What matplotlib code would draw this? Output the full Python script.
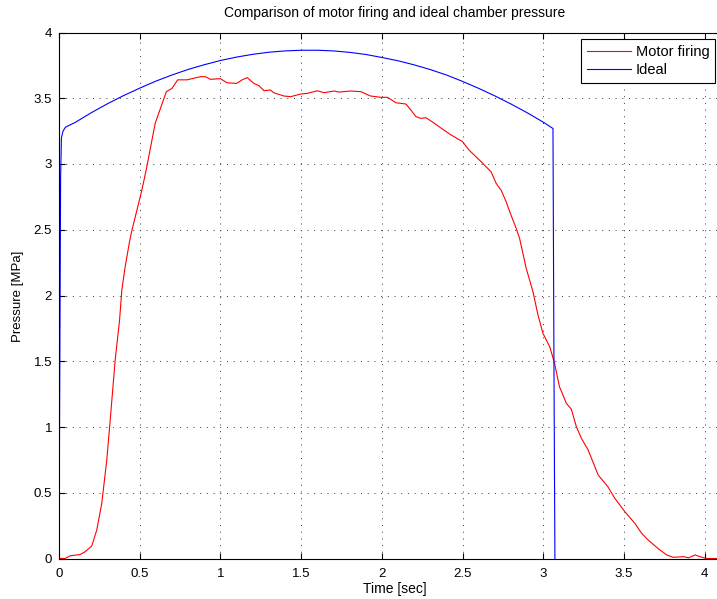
import matplotlib
matplotlib.use("Agg")
import matplotlib.pyplot as plt
import numpy as np

# measured motor firing (red)
fire_t = [0.0, 0.037, 0.068, 0.13, 0.16, 0.203, 0.234, 0.265, 0.296, 0.317, 0.348,
          0.375, 0.389, 0.41, 0.437, 0.452, 0.483, 0.513, 0.54, 0.596, 0.665, 0.70,
          0.735, 0.793, 0.876, 0.907, 0.938, 1.0, 1.04, 1.10, 1.135, 1.166, 1.207,
          1.238, 1.27, 1.31, 1.33, 1.393, 1.435, 1.497, 1.538, 1.60, 1.642, 1.704,
          1.735, 1.807, 1.87, 1.93, 1.994, 2.035, 2.087, 2.149, 2.18, 2.211, 2.242,
          2.273, 2.325, 2.377, 2.43, 2.50, 2.54, 2.615, 2.677, 2.708, 2.739, 2.77,
          2.80, 2.832, 2.853, 2.874, 2.894, 2.936, 2.967, 2.998, 3.04, 3.07, 3.10,
          3.143, 3.174, 3.205, 3.236, 3.278, 3.34, 3.40, 3.443, 3.505, 3.567, 3.609,
          3.65, 3.71, 3.764, 3.806, 3.87, 3.90, 3.94, 3.97, 4.01, 4.1]
fire_p = [0.0, 0.0, 0.02, 0.03, 0.05, 0.095, 0.217, 0.42, 0.75, 1.05, 1.51,
          1.81, 2.04, 2.22, 2.41, 2.498, 2.65, 2.80, 2.954, 3.31, 3.55, 3.575,
          3.64, 3.64, 3.664, 3.664, 3.644, 3.649, 3.618, 3.613, 3.64, 3.657, 3.613,
          3.596, 3.557, 3.563, 3.542, 3.517, 3.512, 3.532, 3.537, 3.557, 3.542, 3.555,
          3.547, 3.555, 3.55, 3.517, 3.507, 3.507, 3.466, 3.456, 3.41, 3.36, 3.347,
          3.352, 3.31, 3.264, 3.22, 3.17, 3.106, 3.017, 2.94, 2.853, 2.80, 2.713,
          2.612, 2.511, 2.435, 2.32, 2.207, 2.029, 1.852, 1.712, 1.61, 1.484, 1.307,
          1.18, 1.135, 1.002, 0.914, 0.825, 0.635, 0.546, 0.458, 0.356, 0.268, 0.192,
          0.14, 0.077, 0.027, 0.009, 0.014, 0.005, 0.027, 0.014, 0.0, 0.0]

# ideal chamber pressure (blue)
ideal_t = [0.0, 0.005, 0.01, 0.015, 0.025, 0.04, 0.1, 0.2, 0.3, 0.4, 0.5, 0.6, 0.7,
           0.8, 0.9, 1.0, 1.1, 1.2, 1.3, 1.4, 1.5, 1.6, 1.7, 1.8, 1.9, 2.0, 2.1,
           2.2, 2.3, 2.4, 2.5, 2.6, 2.7, 2.8, 2.9, 3.0, 3.06, 3.066, 3.072]
ideal_p = [0.0, 1.5, 2.9, 3.2, 3.25, 3.28, 3.316, 3.39, 3.458, 3.52, 3.577, 3.63, 3.677,
           3.719, 3.755, 3.787, 3.813, 3.834, 3.85, 3.86, 3.865, 3.865, 3.86, 3.849, 3.833,
           3.81, 3.785, 3.754, 3.718, 3.677, 3.628, 3.575, 3.518, 3.456, 3.39, 3.318,
           3.27, 1.5, 0.0]

x_ticks = np.arange(0, 4.01, 0.5)
y_ticks = np.arange(0, 4.01, 0.5)

W, H = 717, 599
fig = plt.figure(figsize=(W / 100, H / 100), dpi=100)
plt.rcParams['font.family'] = ['Liberation Sans', 'DejaVu Sans']

x0, x1, y0, y1 = 59, 737, 558.5, 32.5
ax = fig.add_axes([x0 / W, 1 - y0 / H, (x1 - x0) / W, (y0 - y1) / H])

ax.plot(fire_t, fire_p, color=(1, 0, 0), lw=0.8, label="Motor firing")
ax.plot(ideal_t, ideal_p, color=(0, 0, 1), lw=0.8, label="Ideal")

ax.set_xlim(0, 4.2)
ax.set_ylim(0, 4)
ax.set_xticks(x_ticks)
ax.set_yticks(y_ticks)
ax.set_xticklabels([f"{v:g}" for v in x_ticks])
ax.set_yticklabels([f"{v:g}" for v in y_ticks])
ax.tick_params(direction="in", length=4, width=0.8, top=True, right=True,
               labelsize=9.5, colors="black")
ax.tick_params(axis="x", pad=7)
ax.tick_params(axis="y", pad=5)
for s in ax.spines.values():
    s.set_linewidth(0.8)
    s.set_color("black")

ax.grid(True, color="0.25", linestyle=(0, (1, 5.7)), linewidth=0.72)

leg = ax.legend(loc="upper left", bbox_to_anchor=(581 / W, 1 - 39 / H),
                bbox_transform=fig.transFigure, fontsize=10.5, frameon=True,
                fancybox=False, framealpha=1, edgecolor="black",
                borderaxespad=0, borderpad=0.4, handlelength=3.0,
                handletextpad=0.36, labelspacing=0.3)
leg.get_frame().set_linewidth(0.8)

fig.text(395 / W, 1 - 13 / H, "Comparison of motor firing and ideal chamber pressure",
         ha="center", va="center", fontsize=10)
fig.text(395 / W, 1 - 589 / H, "Time [sec]", ha="center", va="center", fontsize=10)
fig.text(18 / W, 1 - 296 / H, "Pressure [MPa]", ha="center", va="center",
         rotation=90, fontsize=9.5)

fig.savefig("out.png", dpi=100, facecolor="white")
